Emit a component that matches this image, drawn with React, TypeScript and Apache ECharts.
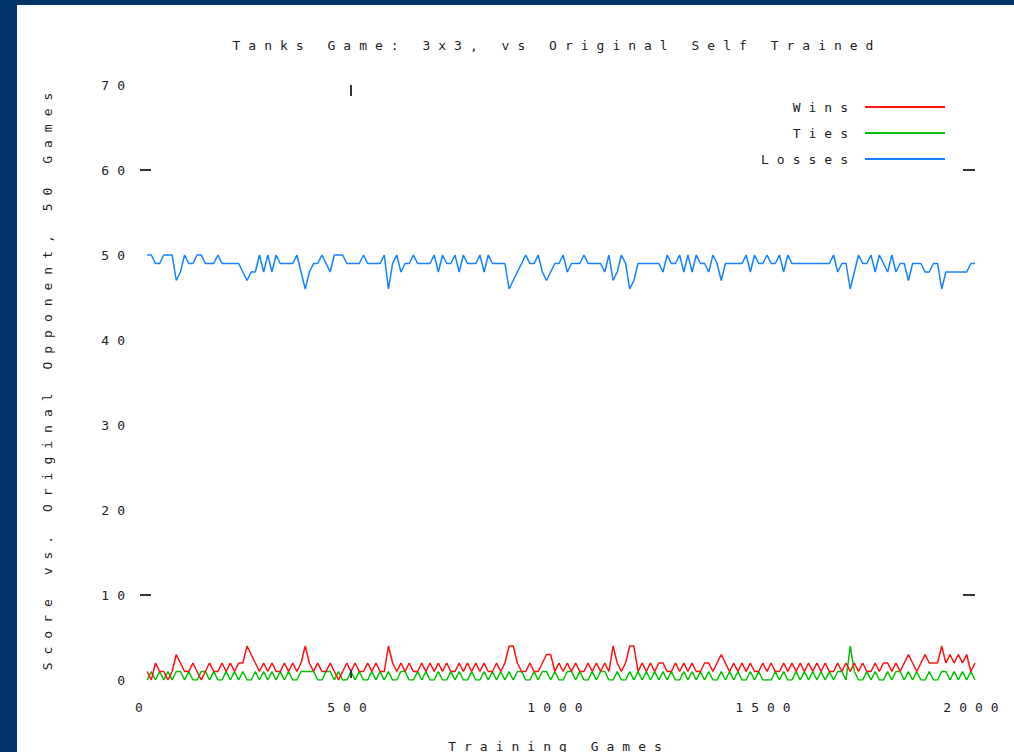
import React, { useEffect, useRef } from "react";
import * as echarts from "echarts";

// Outcome counts per evaluation block of 50 games, sampled every 10 training games.
const SAMPLE_STEP = 10;

const wins = [
  1, 0, 2, 1, 1, 0, 1, 3, 2, 1,
  1, 2, 1, 0, 1, 2, 1, 1, 2, 1,
  2, 1, 2, 2, 4, 3, 2, 1, 2, 1,
  2, 1, 1, 2, 1, 2, 1, 2, 4, 2,
  1, 2, 1, 1, 2, 1, 0, 1, 2, 1,
  2, 1, 1, 2, 1, 2, 1, 1, 4, 2,
  1, 2, 1, 2, 1, 1, 2, 1, 2, 1,
  2, 1, 2, 1, 1, 2, 1, 2, 1, 2,
  1, 2, 1, 1, 2, 1, 2, 4, 4, 2,
  1, 1, 2, 1, 1, 2, 3, 3, 1, 2,
  1, 2, 1, 2, 1, 1, 2, 1, 2, 1,
  2, 1, 4, 2, 1, 2, 4, 4, 1, 2,
  1, 2, 1, 2, 2, 1, 1, 2, 1, 2,
  1, 2, 1, 1, 2, 2, 1, 2, 3, 2,
  1, 2, 1, 2, 1, 2, 1, 1, 2, 1,
  2, 1, 1, 2, 1, 2, 1, 2, 1, 2,
  1, 2, 1, 2, 1, 1, 2, 1, 2, 1,
  2, 1, 2, 1, 1, 2, 1, 2, 2, 1,
  2, 1, 2, 3, 2, 1, 2, 3, 2, 2,
  2, 4, 2, 3, 2, 3, 2, 3, 1, 2,
];

const ties = [
  0, 1, 0, 1, 0, 1, 0, 1, 1, 0,
  1, 0, 0, 1, 1, 0, 1, 0, 0, 1,
  0, 1, 0, 1, 0, 0, 1, 0, 1, 0,
  1, 0, 1, 0, 1, 0, 0, 1, 1, 1,
  1, 0, 0, 1, 1, 0, 1, 0, 0, 1,
  0, 1, 0, 0, 1, 0, 1, 0, 1, 0,
  0, 1, 1, 0, 0, 1, 0, 1, 0, 0,
  1, 0, 0, 1, 0, 1, 0, 0, 1, 0,
  0, 1, 0, 1, 0, 1, 0, 1, 0, 1,
  1, 0, 0, 1, 0, 1, 1, 0, 1, 0,
  0, 1, 1, 0, 1, 0, 0, 1, 0, 1,
  1, 0, 0, 1, 0, 0, 1, 0, 1, 0,
  1, 0, 1, 0, 1, 0, 1, 0, 0, 1,
  0, 1, 0, 1, 0, 1, 0, 0, 1, 0,
  1, 0, 1, 0, 0, 1, 0, 1, 0, 0,
  0, 1, 0, 1, 0, 0, 1, 0, 1, 0,
  1, 0, 1, 0, 1, 0, 1, 1, 0, 4,
  1, 0, 0, 1, 0, 1, 0, 0, 1, 0,
  1, 1, 0, 1, 0, 1, 0, 0, 1, 0,
  0, 1, 1, 0, 1, 0, 1, 0, 1, 0,
];

const losses = [
  50, 50, 49, 49, 50, 50, 50, 47, 48, 50,
  49, 49, 50, 50, 49, 49, 49, 50, 49, 49,
  49, 49, 49, 48, 47, 48, 48, 50, 48, 50,
  48, 50, 49, 49, 49, 49, 50, 48, 46, 48,
  49, 49, 50, 49, 48, 50, 50, 50, 49, 49,
  49, 49, 50, 49, 49, 49, 49, 50, 46, 49,
  50, 48, 49, 49, 50, 49, 49, 49, 49, 50,
  48, 50, 49, 49, 50, 48, 50, 49, 49, 49,
  50, 48, 50, 49, 49, 49, 49, 46, 47, 48,
  49, 50, 49, 49, 50, 48, 47, 48, 49, 49,
  50, 48, 49, 49, 49, 50, 49, 49, 49, 49,
  48, 50, 47, 48, 50, 49, 46, 47, 49, 49,
  49, 49, 49, 49, 48, 50, 49, 49, 50, 48,
  50, 48, 50, 49, 49, 48, 50, 49, 47, 49,
  49, 49, 49, 49, 50, 48, 50, 49, 49, 50,
  49, 49, 50, 48, 50, 49, 49, 49, 49, 49,
  49, 49, 49, 49, 49, 50, 48, 49, 49, 46,
  48, 50, 49, 49, 50, 48, 50, 49, 48, 50,
  48, 49, 49, 47, 49, 49, 49, 48, 48, 49,
  49, 46, 48, 48, 48, 48, 48, 48, 49, 49,
];

const xTicks = [0, 500, 1000, 1500, 2000];
const yTicks = [0, 10, 20, 30, 40, 50, 60, 70];

const TITLE = "Tanks Game: 3x3, vs Original Self Trained";
const X_NAME = "Training Games";
const Y_NAME = "Score vs. Original Opponent, 50 Games";
const LEGEND = ["Wins", "Ties", "Losses"];
const COLORS = ["#ff1010", "#00c000", "#1482ff"];

const FONT = "13px 'DejaVu Sans Mono', monospace";
const TEXT_COLOR = "#222";

export default function App() {
  const ref = useRef<HTMLDivElement>(null);

  useEffect(() => {
    if (!ref.current) return;
    const chart = echarts.init(ref.current, undefined, { renderer: "svg" });

    const games = wins.map((_, i) => (i + 1) * SAMPLE_STEP);
    const pairs = (vals: number[]) => vals.map((v, i) => [games[i], v]);
    const seriesVals = [wins, ties, losses];

    chart.setOption({
      animation: false,
      grid: { left: 126, right: 39, top: 80, bottom: 72, containLabel: false },
      xAxis: {
        type: "value",
        min: xTicks[0],
        max: xTicks[xTicks.length - 1],
        interval: xTicks[1] - xTicks[0],
        axisLine: { show: false },
        axisTick: { show: false },
        splitLine: { show: false },
        axisLabel: {
          margin: 21,
          color: TEXT_COLOR,
          fontFamily: "'DejaVu Sans Mono', monospace",
          fontSize: 13,
          showMaxLabel: true,
          formatter: (v: number) => String(v),
        },
      },
      yAxis: {
        type: "value",
        min: yTicks[0],
        max: yTicks[yTicks.length - 1],
        interval: yTicks[1] - yTicks[0],
        axisLine: { show: false },
        axisTick: { show: false },
        splitLine: { show: false },
        axisLabel: {
          margin: 10,
          color: TEXT_COLOR,
          fontFamily: "'DejaVu Sans Mono', monospace",
          fontSize: 13,
          formatter: (v: number) => String(v),
        },
      },
      series: LEGEND.map((name, k) => ({
        name,
        type: "line",
        data: pairs(seriesVals[k]),
        showSymbol: false,
        symbol: "none",
        lineStyle: { color: COLORS[k], width: 1.5 },
        z: 3 + (2 - k),
      })),
    });

    const px = (x: number, y: number) =>
      chart.convertToPixel({ gridIndex: 0 }, [x, y]) as number[];

    const [x0, yBottom] = px(xTicks[0], yTicks[0]);
    const [x1, yTop] = px(xTicks[xTicks.length - 1], yTicks[yTicks.length - 1]);
    const [, y60] = px(0, 60);
    const [, y10] = px(0, 10);
    const [x500] = px(500, 0);

    const tick = (a: number[], b: number[]) => ({
      type: "line",
      shape: { x1: a[0], y1: a[1], x2: b[0], y2: b[1] },
      style: { stroke: "#333", lineWidth: 2 },
      z: 10,
    });

    const graphics: any[] = [
      {
        type: "text",
        x: (x0 + x1) / 2 - 2,
        y: 40,
        style: {
          text: TITLE,
          font: FONT,
          fill: TEXT_COLOR,
          textAlign: "center",
          textVerticalAlign: "middle",
          align: "center",
          verticalAlign: "middle",
        },
      },
      {
        type: "text",
        x: 30,
        y: (yTop + yBottom) / 2 - 5,
        rotation: Math.PI / 2,
        style: {
          text: Y_NAME,
          font: FONT,
          fill: TEXT_COLOR,
          textAlign: "center",
          textVerticalAlign: "middle",
          align: "center",
          verticalAlign: "middle",
        },
      },
      {
        type: "text",
        x: (x0 + x1) / 2,
        y: yBottom + 66,
        style: {
          text: X_NAME,
          font: FONT,
          fill: TEXT_COLOR,
          textAlign: "center",
          textVerticalAlign: "middle",
          align: "center",
          verticalAlign: "middle",
        },
      },
      tick([x0 - 3, y60], [x0 + 8, y60]),
      tick([x0 - 3, y10], [x0 + 8, y10]),
      tick([x1 - 12, y60], [x1, y60]),
      tick([x1 - 12, y10], [x1, y10]),
      tick([x500, yTop], [x500, yTop + 11]),
      tick([x500, yBottom - 10], [x500, yBottom - 2]),
    ];

    LEGEND.forEach((name, k) => {
      const y = 102 + k * 26;
      graphics.push({
        type: "text",
        x: 839,
        y,
        style: {
          text: name,
          font: FONT,
          fill: TEXT_COLOR,
          textAlign: "right",
          textVerticalAlign: "middle",
          align: "right",
          verticalAlign: "middle",
        },
      });
      graphics.push({
        type: "line",
        shape: { x1: 848, y1: y, x2: 928, y2: y },
        style: { stroke: COLORS[k], lineWidth: 2 },
      });
    });

    chart.setOption({ graphic: graphics });

    return () => chart.dispose();
  }, []);

  return (
    <div
      style={{
        position: "fixed",
        left: 0,
        top: 0,
        width: 1014,
        height: 752,
        background: "#003366",
        overflow: "hidden",
      }}
    >
      <style>{`.plot-panel text { letter-spacing: 8px; }`}</style>
      <div
        ref={ref}
        className="plot-panel"
        style={{
          position: "absolute",
          left: 17,
          top: 5,
          width: 997,
          height: 747,
          background: "#ffffff",
        }}
      />
    </div>
  );
}
